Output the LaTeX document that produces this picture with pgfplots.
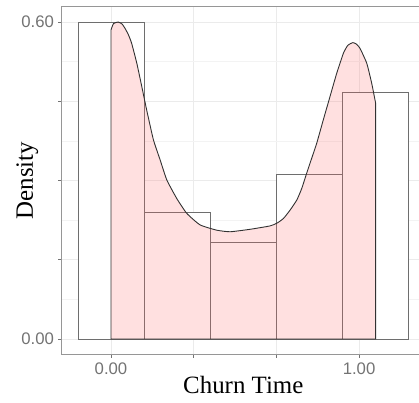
\documentclass[border=0pt]{standalone}
\usepackage{fontspec}
\setmainfont{Liberation Serif}
\newfontfamily\arial{Liberation Sans}
\usepackage{pgfplots}
\pgfplotsset{compat=1.18}
\definecolor{tickgray}{RGB}{115,115,115}
\definecolor{gridgray}{RGB}{235,235,235}
\definecolor{bordergray}{RGB}{150,150,150}
\definecolor{bargray}{RGB}{110,110,110}
\definecolor{densfill}{HTML}{FF6666}
\definecolor{densline}{RGB}{50,50,50}

\begin{document}
\begin{tikzpicture}
\useasboundingbox (0,0) rectangle (419bp,403bp);
\begin{axis}[
    at={(61.4bp,48.15bp)}, anchor=south west,
    scale only axis,
    width=363.8bp, height=348.7bp,
    xmin=-0.2, xmax=1.2667,
    ymin=-0.03, ymax=0.63,
    xtick={0,0.33333,0.66667,1},
    xticklabels={0.00,,,1.00},
    ytick={0,0.15,0.3,0.45,0.6},
    yticklabels={0.00,,,,0.60},
    minor tick num=1,
    minor tick length=0pt,
    major tick length=3bp,
    tick align=outside,
    tick pos=left,
    tick style={tickgray, line width=0.6bp},
    grid=both,
    major grid style={gridgray, line width=0.8bp},
    minor grid style={gridgray!60, line width=0.6bp},
    axis line style={bordergray, line width=0.8bp},
    ticklabel style={font=\arial\fontsize{16.8}{18}\selectfont, text=tickgray},
    xticklabel style={yshift=-1bp},
    yticklabel style={xshift=-1bp},
    xlabel={Churn Time},
    ylabel={Density},
    every axis x label/.style={at={(rel axis cs:0.5,0)}, yshift=-39.15bp, anchor=base, font=\fontsize{25}{26}\selectfont},
    every axis y label/.style={at={(rel axis cs:0,0.5)}, xshift=-28.4bp, rotate=90, anchor=base, font=\fontsize{25}{26}\selectfont},
    clip=false,
]
% histogram bins
\addplot[ybar, bar width=0.26667, fill=white, draw=bargray, line width=0.8bp]
  coordinates {(0,0.600) (0.26667,0.2404) (0.53333,0.1836) (0.8,0.312) (1.06667,0.4675)};
% density curve
\addplot[fill=densfill, fill opacity=0.2, draw=densline, line width=0.9bp, smooth, tension=0.3]
  coordinates {
  (0.000,0.585) (0.010,0.597) (0.029,0.600) (0.045,0.596) (0.0565,0.588)
  (0.070,0.576) (0.083,0.560) (0.104,0.522) (0.124,0.478) (0.144,0.433)
  (0.171,0.377) (0.198,0.339) (0.225,0.301) (0.265,0.266) (0.305,0.238)
  (0.359,0.216) (0.426,0.206) (0.480,0.203) (0.560,0.2076) (0.641,0.214)
  (0.668,0.219) (0.695,0.228) (0.722,0.244) (0.749,0.263) (0.769,0.285)
  (0.789,0.314) (0.809,0.342) (0.829,0.370) (0.856,0.415) (0.883,0.459)
  (0.910,0.503) (0.937,0.541) (0.955,0.556) (0.975,0.561) (0.990,0.558)
  (1.004,0.550) (1.031,0.522) (1.051,0.484) (1.067,0.446)
  } \closedcycle;
\end{axis}
\end{tikzpicture}
\end{document}
